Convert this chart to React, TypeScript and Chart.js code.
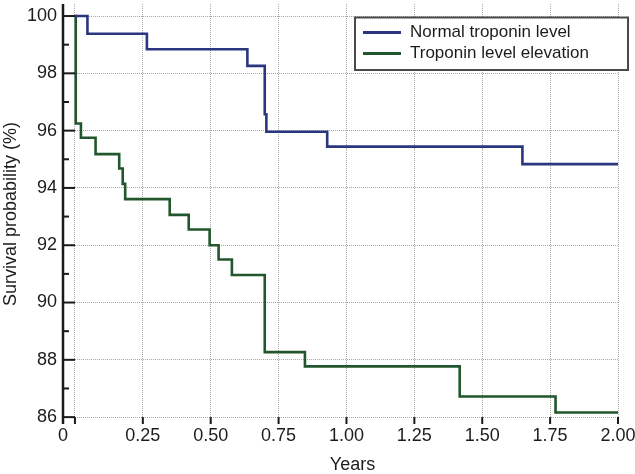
import React, { useEffect, useRef } from "react";
import { Chart, registerables } from "chart.js";

Chart.register(...registerables);

// ---- data ----
const xAxisStart = -0.044; // origin of the axes, left of time 0
const xTickValues = [0, 0.25, 0.5, 0.75, 1, 1.25, 1.5, 1.75, 2];
const yTickValues = [86, 88, 90, 92, 94, 96, 98, 100];
const yMinorTickValues = [87, 89, 91, 93, 95, 97, 99];

const normalLabel = "Normal troponin level";
const normalYears = [0, 0.046, 0.265, 0.635, 0.699, 0.705, 0.929, 1.648, 2.0];
const normalSurvival = [100, 99.38, 98.84, 98.26, 96.57, 95.96, 95.44, 94.83, 94.83];

const elevLabel = "Troponin level elevation";
const elevYears = [0, 0.003, 0.022, 0.076, 0.163, 0.176, 0.185, 0.349, 0.419, 0.496, 0.529, 0.578, 0.699, 0.847, 1.417, 1.77, 2.0];
const elevSurvival = [100, 96.25, 95.75, 95.18, 94.68, 94.14, 93.61, 93.06, 92.55, 92.0, 91.5, 90.96, 88.27, 87.77, 86.72, 86.16, 86.16];

const xTitle = "Years";
const yTitle = "Survival probability (%)";

// ---- styles ----
const FONT = "'Liberation Sans', Arial, Helvetica, sans-serif";
const TEXT = "#1c1c1c";
const BLUE = "#2b3680";
const GREEN = "#22562c";
const GRID = "#a8a8a8";

const axisPlugin = {
  id: "kmAxes",
  afterDatasetsDraw(chart: any) {
    const { ctx, chartArea, scales } = chart;
    const xs = scales.x;
    const ys = scales.y;
    ctx.save();
    ctx.strokeStyle = "#1a1a1a";
    // y axis line
    ctx.lineWidth = 2.5;
    ctx.beginPath();
    ctx.moveTo(chartArea.left, chartArea.top);
    ctx.lineTo(chartArea.left, chartArea.bottom);
    ctx.stroke();
    // y ticks (inward)
    ctx.lineWidth = 2;
    yTickValues.forEach((v) => {
      const y = ys.getPixelForValue(v);
      ctx.beginPath();
      ctx.moveTo(chartArea.left, y);
      ctx.lineTo(chartArea.left + 12, y);
      ctx.stroke();
    });
    yMinorTickValues.forEach((v) => {
      const y = ys.getPixelForValue(v);
      ctx.beginPath();
      ctx.moveTo(chartArea.left, y);
      ctx.lineTo(chartArea.left + 6, y);
      ctx.stroke();
    });
    // x ticks (below lowest gridline)
    const yb = ys.getPixelForValue(yTickValues[0]);
    xTickValues.forEach((v) => {
      const x = xs.getPixelForValue(v);
      ctx.beginPath();
      ctx.moveTo(x, yb);
      ctx.lineTo(x, chartArea.bottom);
      ctx.stroke();
    });

    // x title, centred under the time range
    ctx.fillStyle = TEXT;
    ctx.font = `18px ${FONT}`;
    ctx.textAlign = "center";
    ctx.textBaseline = "middle";
    ctx.fillText(xTitle, (xs.getPixelForValue(0) + xs.getPixelForValue(2)) / 2 + 6, 465);

    // legend box
    const bx = 355, by = 17.5, bw = 273, bh = 52.5;
    ctx.fillStyle = "#ffffff";
    ctx.fillRect(bx, by, bw, bh);
    ctx.strokeStyle = "#4a4a4a";
    ctx.lineWidth = 2;
    ctx.strokeRect(bx, by, bw, bh);
    ctx.font = `17px ${FONT}`;
    ctx.textBaseline = "middle";
    ctx.textAlign = "left";
    chart.data.datasets.forEach((ds: any, i: number) => {
      const ly = 32.5 + i * 21;
      ctx.strokeStyle = ds.borderColor;
      ctx.lineWidth = 3;
      ctx.beginPath();
      ctx.moveTo(363, ly);
      ctx.lineTo(401, ly);
      ctx.stroke();
      ctx.fillStyle = TEXT;
      ctx.fillText(ds.label, 410, ly);
    });
    ctx.restore();
  },
};

export default function App() {
  const ref = useRef<HTMLCanvasElement | null>(null);

  useEffect(() => {
    if (!ref.current) return;
    Chart.defaults.font.family = FONT;
    Chart.defaults.color = TEXT;
    const chart = new Chart(ref.current, {
      type: "line",
      data: {
        datasets: [
          {
            label: normalLabel,
            data: normalYears.map((t, i) => ({ x: t, y: normalSurvival[i] })),
            borderColor: BLUE,
            backgroundColor: BLUE,
            borderWidth: 2.6,
            pointRadius: 0,
            stepped: "before",
            fill: false,
          },
          {
            label: elevLabel,
            data: elevYears.map((t, i) => ({ x: t, y: elevSurvival[i] })),
            borderColor: GREEN,
            backgroundColor: GREEN,
            borderWidth: 2.6,
            pointRadius: 0,
            stepped: "before",
            fill: false,
          },
        ],
      },
      options: {
        animation: false,
        responsive: false,
        devicePixelRatio: 1,
        layout: { padding: { top: 4, right: 17, left: 0, bottom: 0 } },
        plugins: {
          legend: { display: false },
          tooltip: { enabled: false },
        },
        scales: {
          x: {
            type: "linear",
            min: xAxisStart,
            max: xTickValues[xTickValues.length - 1],
            afterBuildTicks: (s: any) => {
              s.ticks = [xAxisStart, ...xTickValues].map((v) => ({ value: v }));
            },
            afterFit: (s: any) => {
              s.height = 50;
              s.paddingLeft = 0;
              s.paddingRight = 0;
            },
            ticks: {
              autoSkip: false,
              maxRotation: 0,
              padding: 1,
              font: { size: 18 },
              color: TEXT,
              callback: (v: any) => {
                const n = Number(v);
                if (n === xAxisStart) return "0";
                if (n === 0) return "";
                return n.toFixed(2);
              },
            },
            grid: {
              drawTicks: false,
              lineWidth: 1,
              color: (c: any) => (c.tick && c.tick.value < 0 ? "rgba(0,0,0,0)" : GRID),
            },
            border: { display: false, dash: [1, 1] },
            title: { display: false },
          },
          y: {
            type: "linear",
            min: 85.76,
            max: 100.42,
            afterBuildTicks: (s: any) => {
              s.ticks = yTickValues.map((v) => ({ value: v }));
            },
            afterFit: (s: any) => {
              s.width = 63;
              s.paddingTop = 0;
              s.paddingBottom = 0;
            },
            ticks: {
              padding: 6,
              font: { size: 18 },
              color: TEXT,
              callback: (v: any) => String(v),
            },
            grid: {
              drawTicks: false,
              lineWidth: 1,
              color: GRID,
            },
            border: { display: false, dash: [1, 1] },
            title: {
              display: true,
              text: yTitle,
              font: { size: 18 },
              color: TEXT,
              padding: { top: 0, bottom: 0 },
            },
          },
        },
      },
      plugins: [axisPlugin],
    } as any);
    return () => chart.destroy();
  }, []);

  return (
    <div style={{ position: "absolute", left: 0, top: 0, width: 635, height: 474 }}>
      <canvas ref={ref} width={635} height={474} style={{ display: "block" }} />
    </div>
  );
}
